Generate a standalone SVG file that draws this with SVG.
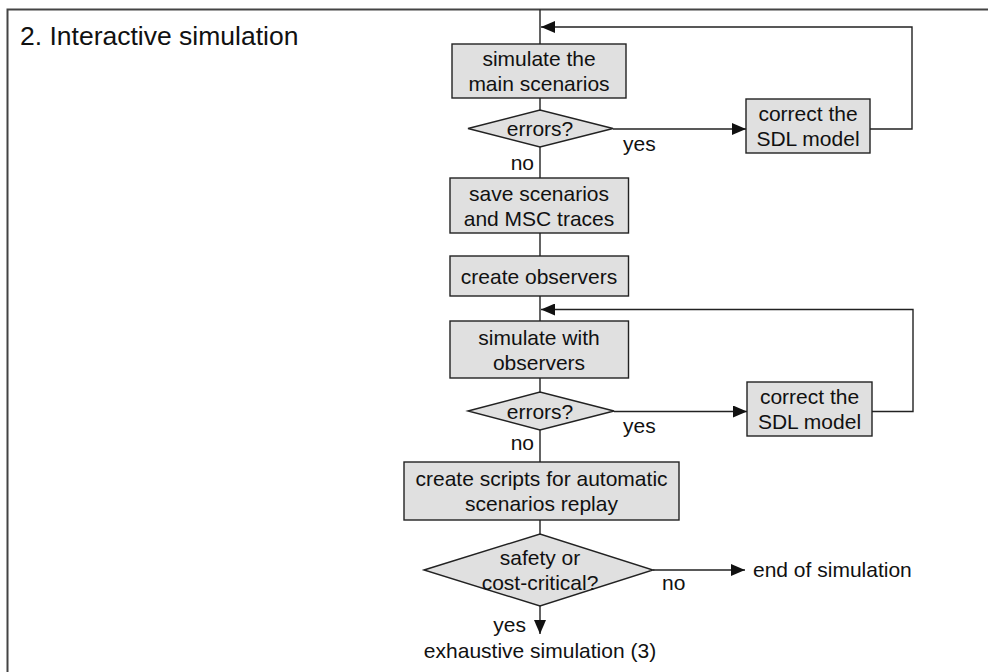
<svg xmlns="http://www.w3.org/2000/svg" width="988" height="672" viewBox="0 0 988 672">
  <style>
    .box { fill: #e0e0e0; stroke: #222; stroke-width: 1.4; }
    .line { fill: none; stroke: #222; stroke-width: 1.4; }
    .frame { fill: none; stroke: #444; stroke-width: 2; }
    text { font-family: "Liberation Sans", Arial, sans-serif; font-size: 21px; fill: #111; }
    .c { text-anchor: middle; }
    .title { font-size: 26.5px; }
  </style>
  <defs>
    <marker id="arrow" viewBox="0 0 14 12" refX="14" refY="6" markerWidth="14" markerHeight="12" markerUnits="userSpaceOnUse" orient="auto">
      <path d="M0,0 L14,6 L0,12 Z" fill="#111"/>
    </marker>
  </defs>

  <rect width="988" height="672" fill="#fff"/>
  <!-- open frame: top and left edges -->
  <path class="frame" d="M988,9.5 H7.5 V672"/>
  <text class="title" x="20" y="45">2. Interactive simulation</text>

  <g id="connectors">
    <path class="line" d="M540,9.5 V44"/>
    <path class="line" d="M540,98 V110"/>
    <path class="line" d="M540,147 V178"/>
    <path class="line" d="M540,233 V256"/>
    <path class="line" d="M540,296 V321"/>
    <path class="line" d="M540,378 V392"/>
    <path class="line" d="M540,430 V462"/>
    <path class="line" d="M540,520 V534"/>
    <!-- first correction loop -->
    <path class="line" d="M613,129 H746" marker-end="url(#arrow)"/>
    <path class="line" d="M870,129 H912 V27 H541" marker-end="url(#arrow)"/>
    <!-- second correction loop -->
    <path class="line" d="M614,411.5 H747" marker-end="url(#arrow)"/>
    <path class="line" d="M872,411.5 H913 V309.5 H541" marker-end="url(#arrow)"/>
    <!-- exits of the final decision -->
    <path class="line" d="M653,570 H745" marker-end="url(#arrow)"/>
    <path class="line" d="M540,606 V634" marker-end="url(#arrow)"/>
  </g>

  <g id="simulate-main">
    <rect class="box" x="452" y="44" width="174" height="54"/>
    <text class="c" x="539" y="66">simulate the</text>
    <text class="c" x="539" y="91">main scenarios</text>
  </g>
  <g id="errors-1">
    <polygon class="box" points="468,128.5 540,110 613,128.5 540,147"/>
    <text class="c" x="540" y="136">errors?</text>
    <text x="623" y="151">yes</text>
    <text x="534" y="170" text-anchor="end">no</text>
  </g>
  <g id="correct-1">
    <rect class="box" x="746" y="99" width="124" height="54"/>
    <text class="c" x="808" y="121">correct the</text>
    <text class="c" x="808" y="146">SDL model</text>
  </g>
  <g id="save-scenarios">
    <rect class="box" x="450" y="178" width="178.5" height="55"/>
    <text class="c" x="539" y="200.5">save scenarios</text>
    <text class="c" x="539" y="225.5">and MSC traces</text>
  </g>
  <g id="create-observers">
    <rect class="box" x="450" y="256" width="178.5" height="40"/>
    <text class="c" x="539" y="283.5">create observers</text>
  </g>
  <g id="simulate-observers">
    <rect class="box" x="450" y="321" width="178.5" height="57"/>
    <text class="c" x="539" y="344.5">simulate with</text>
    <text class="c" x="539" y="369.5">observers</text>
  </g>
  <g id="errors-2">
    <polygon class="box" points="468,411 540,392 614,411 540,430"/>
    <text class="c" x="540" y="418.5">errors?</text>
    <text x="623" y="433">yes</text>
    <text x="534" y="450" text-anchor="end">no</text>
  </g>
  <g id="correct-2">
    <rect class="box" x="747" y="382" width="125" height="54"/>
    <text class="c" x="809.5" y="404">correct the</text>
    <text class="c" x="809.5" y="429">SDL model</text>
  </g>
  <g id="create-scripts">
    <rect class="box" x="404" y="462" width="275" height="58"/>
    <text class="c" x="541.5" y="486">create scripts for automatic</text>
    <text class="c" x="541.5" y="511">scenarios replay</text>
  </g>
  <g id="critical">
    <polygon class="box" points="424,570 540,534 653,570 540,606"/>
    <text class="c" x="540" y="565">safety or</text>
    <text class="c" x="540" y="590">cost-critical?</text>
    <text x="662" y="590">no</text>
    <text x="526" y="632" text-anchor="end">yes</text>
  </g>
  <g id="end">
    <text x="753" y="577">end of simulation</text>
  </g>
  <g id="exhaustive">
    <text class="c" x="540" y="658">exhaustive simulation (3)</text>
  </g>
</svg>
